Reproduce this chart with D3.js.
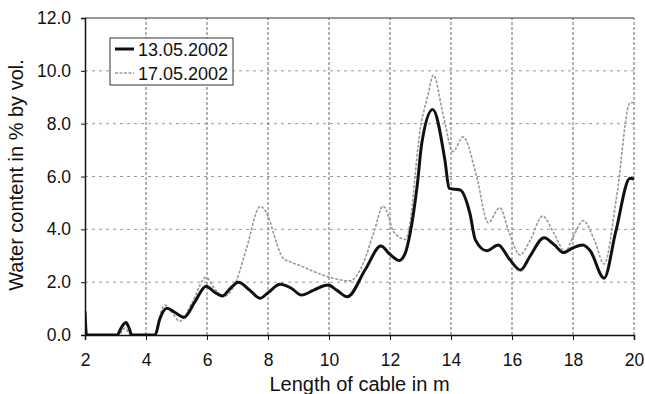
<!DOCTYPE html>
<html>
<head>
<meta charset="utf-8">
<script src="https://cdn.jsdelivr.net/npm/d3@7"></script>
<style>
  body { margin: 0; background: #fff; }
  text { font-family: "Liberation Sans", Arial, sans-serif; fill: #111; }
</style>
</head>
<body>
<div id="chart"></div>
<script>
// values
var xTicks = [2, 4, 6, 8, 10, 12, 14, 16, 18, 20];
var yTicks = [0, 2, 4, 6, 8, 10, 12];
var seriesNames = ["13.05.2002", "17.05.2002"];

var lenA = [2.0, 2.05, 3.05, 3.2, 3.34, 3.45, 3.53, 4.3, 4.45, 4.69, 4.95, 5.25, 5.6, 5.97, 6.25, 6.51, 6.75, 7.03, 7.4, 7.74, 8.0, 8.4, 8.75, 9.1, 9.5, 9.97, 10.25, 10.6, 11.2, 11.7, 12.0, 12.3, 12.5, 12.66, 12.9, 13.04, 13.4, 13.8, 13.94, 14.3, 14.62, 14.8, 15.17, 15.55, 15.9, 16.28, 16.6, 17.05, 17.4, 17.68, 18.0, 18.32, 18.56, 19.02, 19.4, 19.87, 20.0];
var waterA = [0.9, 0, 0, 0.3, 0.47, 0.25, 0, 0, 0.6, 1.01, 0.85, 0.67, 1.25, 1.85, 1.62, 1.48, 1.75, 2.0, 1.7, 1.39, 1.6, 1.92, 1.78, 1.51, 1.7, 1.89, 1.7, 1.45, 2.5, 3.37, 3.05, 2.82, 3.1, 3.85, 5.74, 7.25, 8.54, 6.62, 5.55, 5.49, 4.6, 3.6, 3.19, 3.41, 2.9, 2.46, 3.0, 3.68, 3.4, 3.12, 3.3, 3.41, 3.2, 2.15, 3.9, 5.93, 5.9];

var lenB = [2.0, 3.1, 3.31, 3.5, 4.3, 4.4, 4.62, 4.85, 5.11, 5.5, 5.97, 6.25, 6.54, 6.97, 7.3, 7.74, 8.07, 8.17, 8.5, 8.72, 9.05, 9.38, 9.98, 10.69, 11.12, 11.5, 11.77, 11.95, 12.06, 12.25, 12.5, 12.7, 12.82, 12.93, 13.26, 13.42, 13.75, 14.06, 14.4, 14.84, 15.22, 15.6, 15.9, 16.26, 16.6, 17.0, 17.4, 17.74, 18.0, 18.34, 18.7, 19.02, 19.43, 19.87, 20.0];
var waterB = [0, 0, 0.26, 0, 0, 0.5, 1.13, 0.85, 0.52, 1.2, 2.18, 1.75, 1.45, 2.08, 3.3, 4.86, 4.29, 3.9, 2.9, 2.77, 2.63, 2.46, 2.2, 2.05, 2.71, 4.0, 4.88, 4.5, 4.05, 3.75, 3.62, 4.6, 6.0, 7.25, 9.15, 9.84, 8.3, 6.94, 7.5, 6.0, 4.25, 4.82, 3.9, 3.03, 3.6, 4.5, 3.8, 3.15, 3.7, 4.33, 3.6, 2.69, 5.23, 8.79, 8.8];

var width = 645;
var height = 394;
var margin = {top: 18, right: 11, bottom: 59, left: 85};
var tickFont = "17.5px";
var legendFont = "18px";
var titleFont = "20px";

var svg = d3.select("#chart").append("svg")
  .attr("width", width)
  .attr("height", height);

var x = d3.scaleLinear().domain([2, 20]).range([margin.left, width - margin.right]);
var y = d3.scaleLinear().domain([0, 12]).range([height - margin.bottom, margin.top]);

svg.append("clipPath").attr("id", "plot-clip")
  .append("rect")
  .attr("x", x(2)).attr("y", y(12) - 2)
  .attr("width", x(20) - x(2)).attr("height", y(0) - y(12) + 2);

// grid
svg.append("g").selectAll("line")
  .data(yTicks.slice(1, -1))
  .enter().append("line")
  .attr("x1", x(2)).attr("x2", x(20))
  .attr("y1", function(d){ return y(d); }).attr("y2", function(d){ return y(d); })
  .attr("stroke", "#999").attr("stroke-dasharray", "3,4");

svg.append("g").selectAll("line")
  .data(xTicks.slice(1))
  .enter().append("line")
  .attr("x1", function(d){ return x(d); }).attr("x2", function(d){ return x(d); })
  .attr("y1", y(0)).attr("y2", y(12))
  .attr("stroke", "#666").attr("stroke-dasharray", "3,2");

// top border
svg.append("line")
  .attr("x1", x(2)).attr("x2", x(20))
  .attr("y1", y(12)).attr("y2", y(12))
  .attr("stroke", "#333").attr("stroke-width", 1.2);

// axes
var xAxis = svg.append("g")
  .attr("transform", "translate(0," + y(0) + ")")
  .call(d3.axisBottom(x).tickValues(xTicks).tickSize(5).tickPadding(14).tickFormat(d3.format("d")));
var yAxis = svg.append("g")
  .attr("transform", "translate(" + x(2) + ",0)")
  .call(d3.axisLeft(y).tickValues(yTicks).tickSize(4).tickPadding(10).tickFormat(d3.format(".1f")));

[xAxis, yAxis].forEach(function(a){
  a.select(".domain").attr("stroke", "#111").attr("stroke-width", 1.5);
  a.selectAll(".tick line").attr("stroke", "#111");
  a.selectAll(".tick text").style("font-size", tickFont)
    .style("font-family", "'Liberation Sans', Arial, sans-serif").attr("fill", "#111");
});

// lines
var line = d3.line()
  .x(function(d){ return x(d[0]); })
  .y(function(d){ return y(d[1]); })
  .curve(d3.curveMonotoneX);

var plot = svg.append("g").attr("clip-path", "url(#plot-clip)");

plot.append("path")
  .datum(d3.zip(lenB, waterB))
  .attr("d", line)
  .attr("fill", "none")
  .attr("stroke", "#999")
  .attr("stroke-width", 1.6)
  .attr("stroke-dasharray", "3,1.5");

plot.append("path")
  .datum(d3.zip(lenA, waterA))
  .attr("d", line)
  .attr("fill", "none")
  .attr("stroke", "#111")
  .attr("stroke-width", 3)
  .attr("stroke-linejoin", "round");

// axis titles
svg.append("text")
  .attr("x", (x(2) + x(20)) / 2)
  .attr("y", 391)
  .attr("text-anchor", "middle")
  .style("font-size", titleFont)
  .text("Length of cable in m");

svg.append("text")
  .attr("transform", "translate(23," + 175 + ") rotate(-90)")
  .attr("text-anchor", "middle")
  .style("font-size", titleFont)
  .text("Water content in % by vol.");

// legend
var legend = svg.append("g").attr("transform", "translate(110,38)");
legend.append("rect")
  .attr("width", 123).attr("height", 47)
  .attr("fill", "#fff").attr("stroke", "#333");

var styles = [
  {stroke: "#111", width: 3, dash: null},
  {stroke: "#999", width: 1.6, dash: "3,1.5"}
];
seriesNames.forEach(function(name, i){
  var g = legend.append("g").attr("transform", "translate(0," + (11 + i * 24) + ")");
  g.append("line")
    .attr("x1", 5).attr("x2", 24).attr("y1", 0).attr("y2", 0)
    .attr("stroke", styles[i].stroke)
    .attr("stroke-width", styles[i].width)
    .attr("stroke-dasharray", styles[i].dash);
  g.append("text")
    .attr("x", 28).attr("y", 7)
    .style("font-size", legendFont)
    .text(name);
});
</script>
</body>
</html>
